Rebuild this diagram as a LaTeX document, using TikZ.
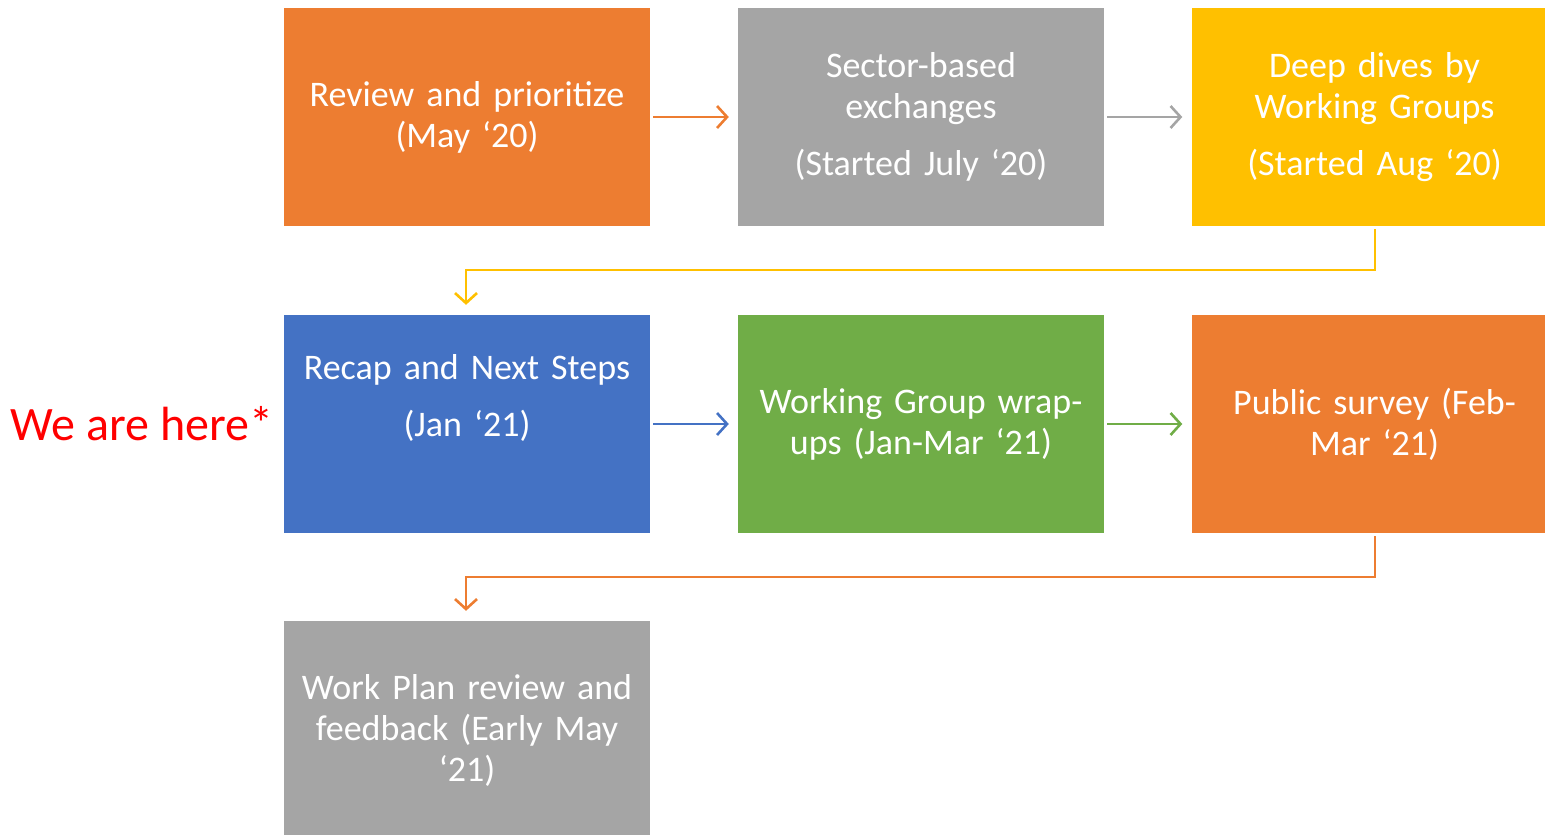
\documentclass[tikz,border=0pt]{standalone}
\usepackage{fontspec}
\setmainfont{Carlito}
\usetikzlibrary{arrows.meta}
\definecolor{corange}{HTML}{ED7D31}
\definecolor{cgray}{HTML}{A5A5A5}
\definecolor{cyellow}{HTML}{FFC000}
\definecolor{cblue}{HTML}{4472C4}
\definecolor{cgreen}{HTML}{70AD47}
\tikzset{
  stage/.style={fill=#1, draw=none, minimum width=366pt, minimum height=218pt,
    text width=356pt, align=center, text=white, inner sep=0pt,
    font=\fontsize{36}{41}\selectfont},
  flow/.style={draw=#1, line width=2.6pt, -{Straight Barb[length=10pt,width=22pt,line width=2.6pt]}},
  elbow/.style={draw=#1, line width=2.6pt, -{Straight Barb[length=10pt,width=22pt,line width=2.6pt]}},
}
\begin{document}
\begin{tikzpicture}[x=1pt,y=-1pt]
\useasboundingbox (0,0) rectangle (1545,835);
\clip (0,0) rectangle (1545,835);
% row 1
\node[stage=corange] (b1) at (467,117) {Review and prioritize\\(May ‘20)};
\node[stage=cgray] (b2) at (921,117) {Sector-based\\exchanges\\[16pt](Started July ‘20)};
\node[stage=cyellow] (b3) at (1374.5,117) {Deep dives by\\Working Groups\\[16pt](Started Aug ‘20)};
% row 2
\node[stage=cblue] (b4) at (467,424) {Recap and Next Steps\\[16pt](Jan ‘21)\\[16pt]~};
\node[stage=cgreen] (b5) at (921,424) {Working Group wrap-\\ups (Jan-Mar ‘21)};
\node[stage=corange] (b6) at (1374.5,424) {Public survey (Feb-\\Mar ‘21)};
% row 3
\node[stage=cgray] (b7) at (467,730) {Work Plan review and\\feedback (Early May\\‘21)};
% label
\node[text=red, font=\fontsize{48}{56}\selectfont, inner sep=0pt] (here) at (142,424) {We are here*};
% connectors
\draw[flow=corange, shorten <=3pt, shorten >=9pt] (b1.east) -- (b2.west);
\draw[flow=cgray, shorten <=3pt, shorten >=9pt] (b2.east) -- (b3.west);
\draw[flow=cblue, shorten <=3pt, shorten >=9pt] (b4.east) -- (b5.west);
\draw[flow=cgreen, shorten <=3pt, shorten >=9pt] (b5.east) -- (b6.west);
\coordinate (k1) at (1375,270);
\coordinate (k2) at (466,270);
\draw[elbow=cyellow, shorten <=3pt, shorten >=10pt] (b3.south -| k1) -- (k1) -- (k2) -- (k2 |- b4.north);
\coordinate (k3) at (1375,577);
\coordinate (k4) at (466,577);
\draw[elbow=corange, shorten <=3pt, shorten >=10pt] (b6.south -| k3) -- (k3) -- (k4) -- (k4 |- b7.north);
\end{tikzpicture}
\end{document}
